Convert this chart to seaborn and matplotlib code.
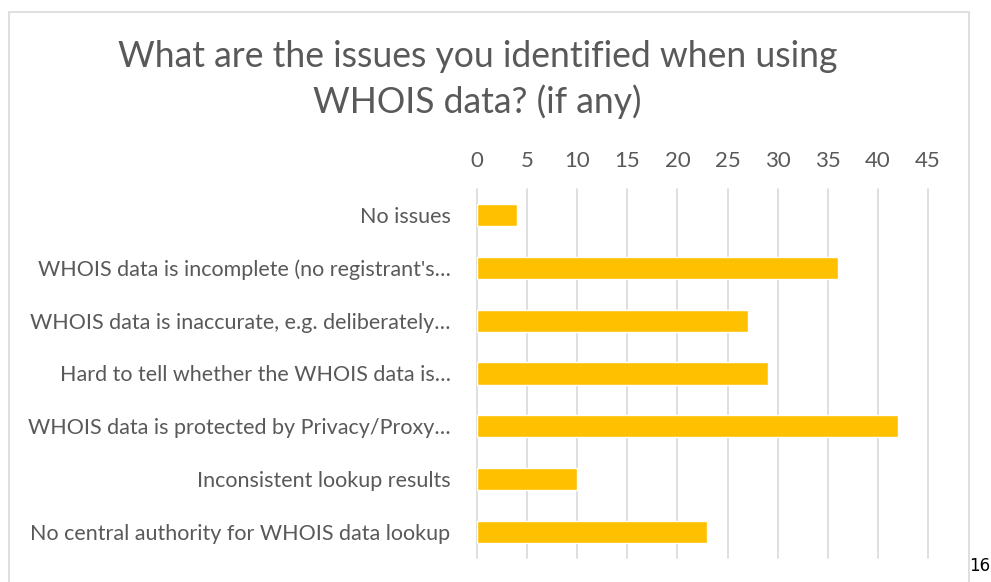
import matplotlib
matplotlib.use("Agg")
import matplotlib.pyplot as plt
import seaborn as sns
import pandas as pd
from matplotlib.patches import Rectangle

# DATA

categories = [
    "No issues",
    "WHOIS data is incomplete (no registrant's…",
    "WHOIS data is inaccurate, e.g. deliberately…",
    "Hard to tell whether the WHOIS data is…",
    "WHOIS data is protected by Privacy/Proxy…",
    "Inconsistent lookup results",
    "No central authority for WHOIS data lookup",
]
counts = [4, 36, 27, 29, 42, 10, 23]
ticks = [0, 5, 10, 15, 20, 25, 30, 35, 40, 45]

df = pd.DataFrame({"issue": categories, "count": counts})

# STYLE

sns.set_style("white")
plt.rcParams['font.family'] = ['Lato', 'DejaVu Sans']
text_color = "#595959"

fig = plt.figure(figsize=(9.91, 5.82), dpi=100)
ax = fig.add_axes([0.4813, 0.0412, 0.4551, 0.6341])

sns.barplot(data=df, x="count", y="issue", color="#FFC000",
            width=0.42, saturation=1, ax=ax, zorder=3)

ax.set_xlim(0, 45)
ax.set_xticks(ticks)
ax.xaxis.tick_top()
ax.tick_params(axis="x", length=0, labelsize=16, colors=text_color, pad=13)
ax.tick_params(axis="y", length=0, labelsize=15.5, colors=text_color, pad=19)
ax.grid(axis="x", color="#d9d9d9", linewidth=1.2, zorder=0)
for gl in ax.get_xgridlines():
    gl.set_clip_on(False)
ax.set_xlabel("")
ax.set_ylabel("")
for s in ax.spines.values():
    s.set_visible(False)

# TITLE

fig.text(0.482, 0.8634, "What are the issues you identified when using\nWHOIS data? (if any)",
         ha="center", va="center", fontsize=25.6, color=text_color, linespacing=1.37)

# CHART BORDER AND PAGE NUMBER

fig.patches.append(Rectangle((9 / 991, -0.05), 960 / 991, 1.05 - 12 / 582,
                             transform=fig.transFigure, fill=False,
                             edgecolor="#d9d9d9", linewidth=1.2))
fig.text(0.989, 0.027, "16", ha="center", va="center", fontsize=12,
         family="DejaVu Sans", color="black")

plt.savefig("out.png", dpi=100)
plt.close()
